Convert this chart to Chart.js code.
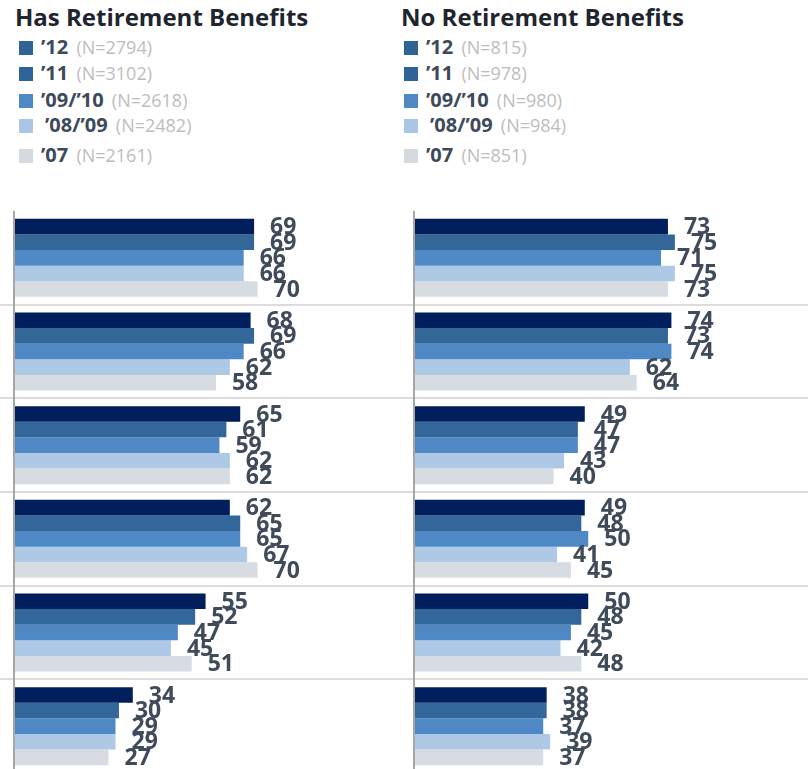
<!DOCTYPE html>
<html>
<head>
<meta charset="utf-8">
<script src="https://cdn.jsdelivr.net/npm/chart.js@4.4.7/dist/chart.umd.min.js"></script>
<style>
  html, body { margin: 0; padding: 0; background: #fff; overflow: hidden; width: 808px; height: 769px; }
  body { position: relative; font-family: "Open Sans", sans-serif; }
  .title { position: absolute; top: 0px; font-weight: 700; font-size: 24px; color: #1e252e; white-space: nowrap; }
  .leg { position: absolute; white-space: nowrap; line-height: 22px; }
  .sw { display: inline-block; width: 14px; height: 14px; vertical-align: -1px; margin-right: 8px; }
  .yr { font-weight: 700; font-size: 20px; color: #3d4a5a; }
  .n { font-size: 18px; color: #bdbdbd; margin-left: 4px; }
  canvas { position: absolute; top: 211px; }
</style>
</head>
<body>
<div class="title" style="left:15px">Has Retirement Benefits</div>
<div class="title" style="left:401px">No Retirement Benefits</div>
<div id="legLeft"></div>
<div id="legRight"></div>
<canvas id="hasChart" width="404" height="562" style="left:0"></canvas>
<canvas id="noChart" width="408" height="562" style="left:400px"></canvas>
<script>
const categories = ['Group 1', 'Group 2', 'Group 3', 'Group 4', 'Group 5', 'Group 6'];
const years = ['\u201912', '\u201911', '\u201909/\u201910', '\u201908/\u201909', '\u201907'];
const hasN = [2794, 3102, 2618, 2482, 2161];
const noN = [815, 978, 980, 984, 851];

// Has retirement benefits
const has12 = [69, 68, 65, 62, 55, 34];
const has11 = [69, 69, 61, 65, 52, 30];
const has0910 = [66, 66, 59, 65, 47, 29];
const has0809 = [66, 62, 62, 67, 45, 29];
const has07 = [70, 58, 62, 70, 51, 27];

// No retirement benefits
const no12 = [73, 74, 49, 49, 50, 38];
const no11 = [75, 73, 47, 48, 48, 38];
const no0910 = [71, 74, 47, 50, 45, 37];
const no0809 = [75, 62, 43, 41, 42, 39];
const no07 = [73, 64, 40, 45, 48, 37];

const barColors = ['#001f5c', '#336699', '#4f89c5', '#adc9e5', '#d7dce3'];
const swatchColors = ['#2f6496', '#2f6496', '#4f89c5', '#a9c7e4', '#d5dae1'];
const legendRows = [47, 73, 100, 125, 155];

function buildLegend(el, left, counts) {
  let html = '';
  years.forEach((y, i) => {
    const indent = i === 3 ? 4 : 0;
    html += '<div class="leg" style="left:' + left + 'px;top:' + (legendRows[i] - 11) + 'px">' +
      '<span class="sw" style="background:' + swatchColors[i] + ';margin-right:' + (8 + indent) + 'px"></span>' +
      '<span class="yr">' + y + '</span> <span class="n">(N=' + counts[i] + ')</span></div>';
  });
  el.innerHTML = html;
}
buildLegend(document.getElementById('legLeft'), 19, hasN);
buildLegend(document.getElementById('legRight'), 404, noN);

const decor = {
  id: 'decor',
  beforeDatasetsDraw(chart) {
    const ctx = chart.ctx, y = chart.scales.y;
    ctx.save();
    ctx.strokeStyle = '#dcdcdc';
    ctx.lineWidth = 2;
    for (let i = 1; i < categories.length; i++) {
      const py = Math.round((y.getPixelForValue(i - 1) + y.getPixelForValue(i)) / 2);
      ctx.beginPath();
      ctx.moveTo(0, py);
      ctx.lineTo(chart.width, py);
      ctx.stroke();
    }
    ctx.restore();
  },
  afterDatasetsDraw(chart) {
    const ctx = chart.ctx, area = chart.chartArea;
    ctx.save();
    ctx.strokeStyle = '#a6a6a6';
    ctx.lineWidth = 2;
    ctx.beginPath();
    ctx.moveTo(area.left - 1, 0);
    ctx.lineTo(area.left - 1, chart.height);
    ctx.stroke();

    ctx.font = 'bold 23px "Open Sans"';
    ctx.fillStyle = '#3f4b5a';
    ctx.textAlign = 'left';
    ctx.textBaseline = 'middle';
    chart.data.datasets.forEach((ds, di) => {
      chart.getDatasetMeta(di).data.forEach((bar, i) => {
        ctx.fillText(ds.data[i], bar.x + 16, bar.y + 1);
      });
    });
    ctx.restore();
  }
};

function makeChart(id, series, rightPad) {
  new Chart(document.getElementById(id), {
    type: 'bar',
    data: {
      labels: categories,
      datasets: series.map((d, i) => ({
        label: years[i],
        data: d,
        backgroundColor: barColors[i],
        borderWidth: 0,
        categoryPercentage: 0.833,
        barPercentage: 1
      }))
    },
    options: {
      indexAxis: 'y',
      responsive: false,
      animation: false,
      events: [],
      layout: { padding: { left: 15, right: rightPad, top: 0, bottom: 0 } },
      scales: {
        x: { display: false, min: 0, max: 100 },
        y: { display: false }
      },
      plugins: { legend: { display: false }, tooltip: { enabled: false } }
    },
    plugins: [decor]
  });
}

makeChart('hasChart', [has12, has11, has0910, has0809, has07], 42.5);
makeChart('noChart', [no12, no11, no0910, no0809, no07], 46.5);
</script>
</body>
</html>
